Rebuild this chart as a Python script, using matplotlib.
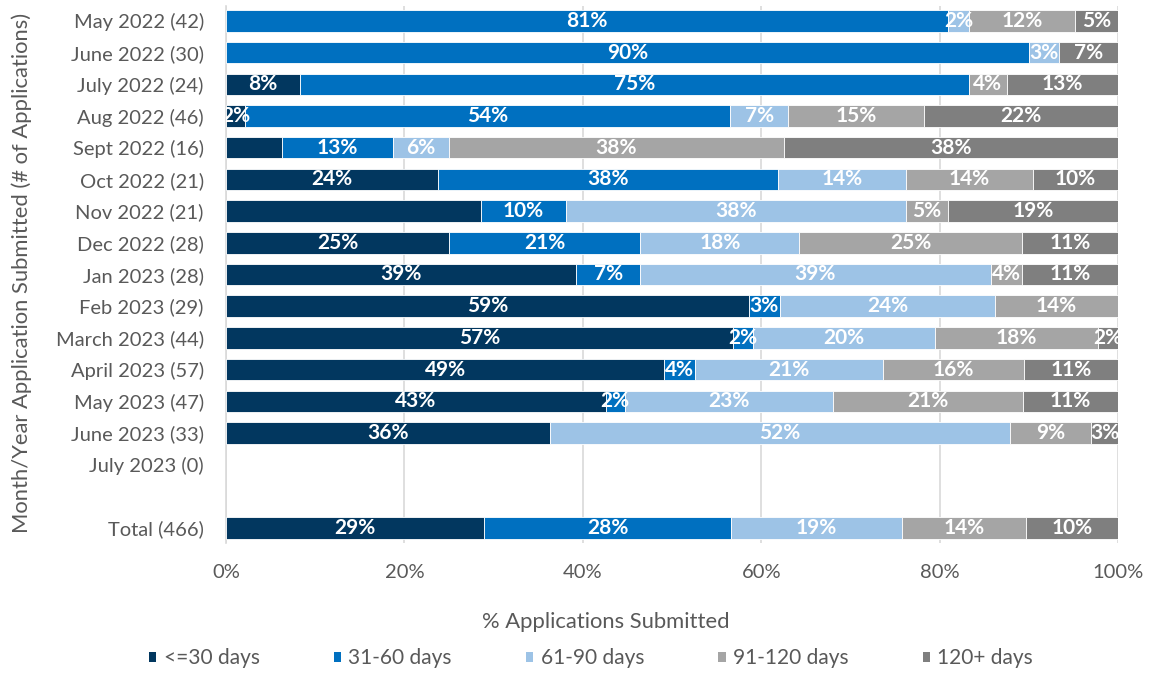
import math
import matplotlib
matplotlib.use("Agg")
import matplotlib.pyplot as plt
from matplotlib.patches import Patch

plt.rcParams["font.family"] = ["Lato", "DejaVu Sans"]

# Month of submission (with number of applications); blank row separates the total
categories = [
    "May 2022 (42)", "June 2022 (30)", "July 2022 (24)", "Aug 2022 (46)",
    "Sept 2022 (16)", "Oct 2022 (21)", "Nov 2022 (21)", "Dec 2022 (28)",
    "Jan 2023 (28)", "Feb 2023 (29)", "March 2023 (44)", "April 2023 (57)",
    "May 2023 (47)", "June 2023 (33)", "July 2023 (0)", "", "Total (466)",
]

# Share of applications (%) in each processing-time bucket
le_30_days = [0, 0, 8.33, 2.17, 6.25, 23.81, 28.57, 25.00, 39.29, 58.62,
              56.82, 49.12, 42.55, 36.36, 0, 0, 28.97]
days_31_60 = [80.95, 90.00, 75.00, 54.35, 12.50, 38.10, 9.52, 21.43, 7.14,
              3.45, 2.27, 3.51, 2.13, 0, 0, 0, 27.68]
days_61_90 = [2.38, 3.33, 0, 6.52, 6.25, 14.29, 38.10, 17.86, 39.29, 24.14,
              20.45, 21.05, 23.40, 51.52, 0, 0, 19.10]
days_91_120 = [11.90, 0, 4.17, 15.22, 37.50, 14.29, 4.76, 25.00, 3.57, 13.79,
               18.18, 15.79, 21.28, 9.09, 0, 0, 13.95]
days_120_plus = [4.76, 6.67, 12.50, 21.74, 37.50, 9.52, 19.05, 10.71, 10.71, 0,
                 2.27, 10.53, 10.64, 3.03, 0, 0, 10.30]

series_names = ["<=30 days", "31-60 days", "61-90 days", "91-120 days", "120+ days"]
series_values = [le_30_days, days_31_60, days_61_90, days_91_120, days_120_plus]
series_colors = ["#02375F", "#0070C0", "#9DC3E6", "#A5A5A5", "#7F7F7F"]

# Segments shown without a data label
unlabeled = {("Sept 2022 (16)", "<=30 days"), ("Nov 2022 (21)", "<=30 days")}

x_ticks = [0, 20, 40, 60, 80, 100]

TEXT = "#595959"
GRID = "#D9D9D9"
W, H = 1150, 673

fig = plt.figure(figsize=(W / 100, H / 100), dpi=100)
ax = fig.add_axes([226 / W, 1 - 543 / H, 892 / W, 537 / H])

rows = list(range(len(categories)))
left = [0.0] * len(categories)
for name, vals, color in zip(series_names, series_values, series_colors):
    edge_widths = [0.6 if v > 0 else 0 for v in vals]
    bars = ax.barh(rows, vals, left=left, height=0.68, color=color,
                   edgecolor="white", linewidth=edge_widths, zorder=3)
    for cat, rect, v in zip(categories, bars, vals):
        if v <= 0 or (cat, name) in unlabeled:
            continue
        cx = rect.get_x() + rect.get_width() / 2
        cy = rect.get_y() + rect.get_height() / 2
        ax.text(cx, cy, f"{math.floor(v + 0.5)}%", ha="center", va="center",
                color="white", fontsize=15, fontweight="bold", zorder=4,
                clip_on=True)
    left = [l + v for l, v in zip(left, vals)]

ax.set_xlim(0, 100)
ax.set_ylim(16.47, -0.47)
ax.set_xticks(x_ticks)
ax.set_xticklabels([f"{t}%" for t in x_ticks])
ax.set_yticks(rows)
ax.set_yticklabels(categories)
ax.tick_params(axis="both", length=0, colors=TEXT, labelsize=14.5)
ax.tick_params(axis="x", pad=15)
ax.tick_params(axis="y", pad=16)

ax.grid(axis="x", color=GRID, linewidth=1.2, zorder=0)
ax.set_axisbelow(True)
for side in ("top", "right", "bottom"):
    ax.spines[side].set_visible(False)
ax.spines["left"].set_color(GRID)
ax.spines["left"].set_linewidth(1.2)

fig.text(22 / W, 1 - 273 / H, "Month/Year Application Submitted (# of Applications)",
         rotation=90, ha="center", va="center", color=TEXT, fontsize=15.8)
fig.text(606 / W, 1 - 622 / H, "% Applications Submitted",
         ha="center", va="center", color=TEXT, fontsize=15.8)

handles = [Patch(facecolor=c, edgecolor="none", label=n)
           for n, c in zip(series_names, series_colors)]
fig.legend(handles=handles, loc="center", ncol=5,
           bbox_to_anchor=(591 / W, 1 - 658 / H), frameon=False,
           fontsize=15, labelcolor=TEXT, handlelength=0.36, handleheight=0.36,
           handletextpad=0.35, columnspacing=3.55, borderpad=0, borderaxespad=0)

fig.savefig("out.png", dpi=100)
